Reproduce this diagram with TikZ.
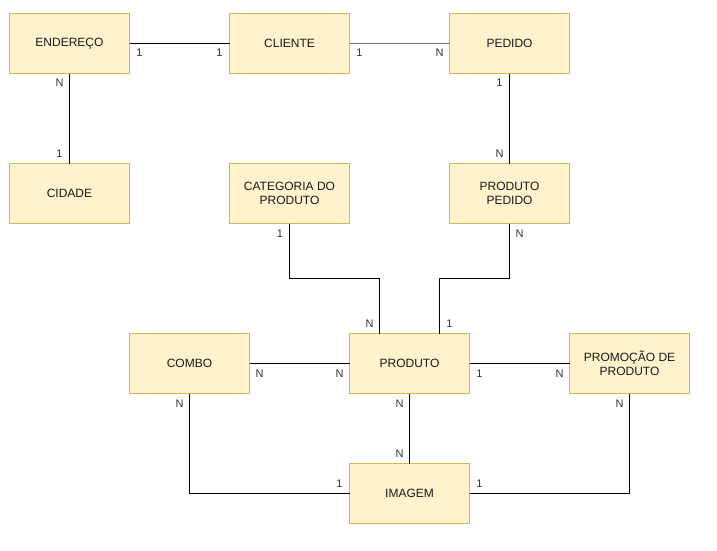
\documentclass[tikz,border=0pt]{standalone}
\usepackage{fontspec}
\setmainfont{Liberation Sans}
\definecolor{boxfill}{HTML}{FFF2CC}
\definecolor{boxline}{HTML}{D6B656}
\definecolor{txt}{HTML}{1A1A1A}
\definecolor{lbl}{HTML}{333333}
\definecolor{selline}{HTML}{777777}
\begin{document}
\begin{tikzpicture}[x=1pt,y=-1pt,
  entity/.style={draw=boxline,fill=boxfill,line width=1pt,minimum width=120pt,minimum height=60pt,
    inner sep=0pt,outer sep=0pt,align=center,text=txt,font=\fontsize{12}{14}\selectfont},
  card/.style={inner sep=0pt,text=lbl,font=\fontsize{11}{13}\selectfont},
  rel/.style={draw=black,line width=1pt}]
\useasboundingbox (0,0) rectangle (717,550);
\fill[white] (0,0) rectangle (717,550);
\node[entity] (end) at (69.5,43.5) {ENDEREÇO};
\node[entity] (cli) at (289.5,43.5) {CLIENTE};
\node[entity] (ped) at (509.5,43.5) {PEDIDO};
\node[entity] (cid) at (69.5,193.5) {CIDADE};
\node[entity] (cat) at (289.5,193.5) {CATEGORIA DO\\PRODUTO};
\node[entity] (pp) at (509.5,193.5) {PRODUTO\\PEDIDO};
\node[entity] (combo) at (189.5,363.5) {COMBO};
\node[entity] (prod) at (409.5,363.5) {PRODUTO};
\node[entity] (promo) at (629.5,363.5) {PROMOÇÃO DE\\PRODUTO};
\node[entity] (img) at (409.5,493.5) {IMAGEM};

\draw[rel] (end) -- (cli);
\draw[rel,draw=selline] (cli) -- (ped);
\draw[rel] (end) -- (cid);
\draw[rel] (ped) -- (pp);
\draw[rel] (cat.south) -- ++(0,55) -| ([xshift=-30pt]prod.north);
\draw[rel] (pp.south) -- ++(0,55) -| ([xshift=30pt]prod.north);
\draw[rel] (combo) -- (prod);
\draw[rel] (prod) -- (promo);
\draw[rel] (prod) -- (img);
\draw[rel] (combo.south) |- (img.west);
\draw[rel] (promo.south) |- (img.east);

\node[card] (l1) at (139.5,53) {1};
\node[card] (l2) at (219.5,53) {1};
\node[card] (l3) at (59.5,83) {N};
\node[card] (l4) at (59.5,153.5) {1};
\node[card] (l5) at (359.5,53) {1};
\node[card] (l6) at (439.5,53) {N};
\node[card] (l7) at (499.5,83) {1};
\node[card] (l8) at (499.5,153.5) {N};
\node[card] (l9) at (280,233.5) {1};
\node[card] (l10) at (519.5,233.5) {N};
\node[card] (l11) at (369.5,323.5) {N};
\node[card] (l12) at (449.5,323.5) {1};
\node[card] (l13) at (259.5,373.5) {N};
\node[card] (l14) at (339.5,373.5) {N};
\node[card] (l15) at (479.5,373.5) {1};
\node[card] (l16) at (559.5,373.5) {N};
\node[card] (l17) at (179.5,403.5) {N};
\node[card] (l18) at (399.5,403.5) {N};
\node[card] (l19) at (619.5,403.5) {N};
\node[card] (l20) at (399.5,453.5) {N};
\node[card] (l21) at (339.5,483.5) {1};
\node[card] (l22) at (479.5,483.5) {1};
\end{tikzpicture}
\end{document}
